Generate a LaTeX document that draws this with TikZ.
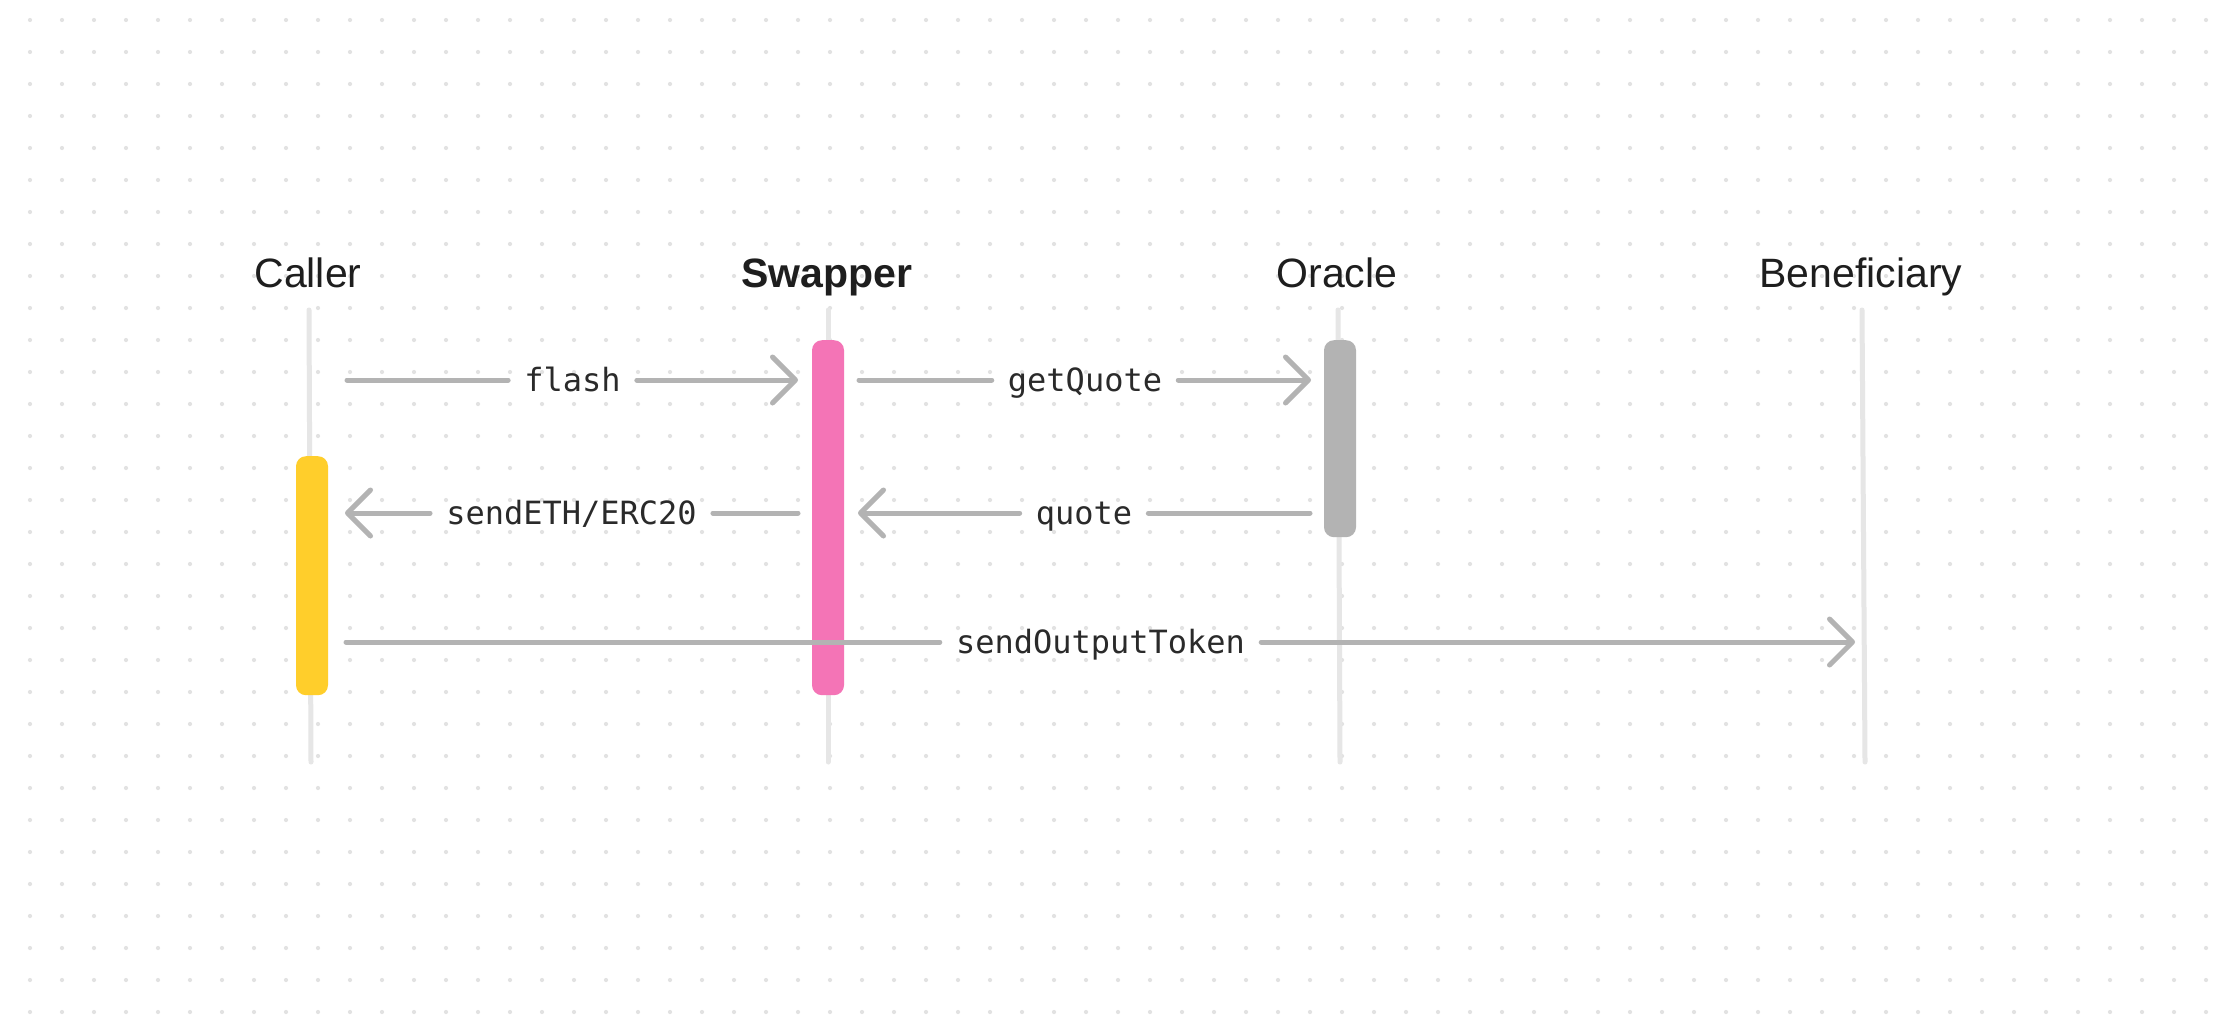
\documentclass[tikz,border=0pt]{standalone}
\usepackage{fontspec}
\setmainfont{Liberation Sans}
\newfontfamily\monofont{DejaVu Sans Mono}
\usetikzlibrary{arrows.meta,calc}
\definecolor{dotc}{HTML}{E2E2E2}
\definecolor{lifec}{HTML}{E6E6E6}
\definecolor{msgc}{HTML}{B3B3B3}
\definecolor{pinkc}{HTML}{F474B6}
\definecolor{yellowc}{HTML}{FFCE2B}
\definecolor{grayc}{HTML}{B3B3B3}
\definecolor{txtc}{HTML}{1E1E1E}
\definecolor{lbltxt}{HTML}{2A2A2A}
\begin{document}
\begin{tikzpicture}[x=1pt,y=-1pt,
  actor/.style={font=\fontsize{41}{49}\selectfont, text=txtc, anchor=base, inner sep=0pt},
  actorbold/.style={actor, font=\fontsize{41}{49}\selectfont\bfseries},
  lifeline/.style={draw=lifec, line width=5pt, line cap=round},
  bar/.style={rounded corners=10pt, minimum width=32pt, inner sep=0pt, anchor=north},
  msg/.style={draw=msgc, line width=5pt, line cap=round},
  msgarrow/.style={msg, -{Straight Barb[length=23pt,width=46pt,round]}},
  lbl/.style={font=\monofont\fontsize{32}{38}\selectfont, text=lbltxt, inner xsep=16pt, inner ysep=0pt, text height=23pt, text depth=0pt}
]
\fill[white] (0,0) rectangle (2223,1020);
\useasboundingbox (0,0) rectangle (2223,1020);
% dot grid
\foreach \i in {0,...,68}{
  \foreach \j in {0,...,31}{
    \fill[dotc] (30+32*\i, 20+32*\j) circle (2.1pt);
  }
}
% actors
\node[actor] (caller) at (308,287) {Caller};
\node[actorbold] (swapper) at (827,287) {Swapper};
\node[actor] (oracle) at (1337,287) {Oracle};
\node[actor] (benef) at (1861,287) {Beneficiary};
% lifelines
\coordinate (callerT) at (309,310);  \coordinate (callerB) at (311,762);
\coordinate (swapT) at (828,310);    \coordinate (swapB) at (828,762);
\coordinate (oracT) at (1338,310);   \coordinate (oracB) at (1340,762);
\coordinate (benT) at (1862,310);    \coordinate (benB) at (1865,762);
\draw[lifeline] (callerT) -- (callerB);
\draw[lifeline] (swapT) -- (swapB);
\draw[lifeline] (oracT) -- (oracB);
\draw[lifeline] (benT) -- (benB);
% activation bars
\node[bar, fill=yellowc, minimum height=239pt] (callerbar) at (312,456) {};
\node[bar, fill=pinkc, minimum height=355pt] (swapbar) at (828,340) {};
\node[bar, fill=grayc, minimum height=197pt] (oracbar) at (1340,340) {};
% messages
\coordinate (m1s) at (347,380);  \coordinate (m1e) at (798,380);
\coordinate (m2s) at (859,380);  \coordinate (m2e) at (1311,380);
\coordinate (m3s) at (1310,513); \coordinate (m3e) at (858,513);
\coordinate (m4s) at (798,513);  \coordinate (m4e) at (345,513);
\coordinate (m5s) at (346,642);  \coordinate (m5e) at (1855,642);
\node[lbl] (flash) at ($(m1s)!0.5!(m1e)$) {flash};
\node[lbl] (getq) at ($(m2s)!0.5!(m2e)$) {getQuote};
\node[lbl] (quote) at ($(m3s)!0.5!(m3e)$) {quote};
\node[lbl] (send) at ($(m4s)!0.5!(m4e)$) {sendETH/ERC20};
\node[lbl] (outp) at ($(m5s)!0.5!(m5e)$) {sendOutputToken};
\draw[msg] (m1s) -- (flash);  \draw[msgarrow] (flash) -- (m1e);
\draw[msg] (m2s) -- (getq);   \draw[msgarrow] (getq) -- (m2e);
\draw[msg] (m3s) -- (quote);  \draw[msgarrow] (quote) -- (m3e);
\draw[msg] (m4s) -- (send);   \draw[msgarrow] (send) -- (m4e);
\draw[msg] (m5s) -- (outp);   \draw[msgarrow] (outp) -- (m5e);
\end{tikzpicture}
\end{document}
